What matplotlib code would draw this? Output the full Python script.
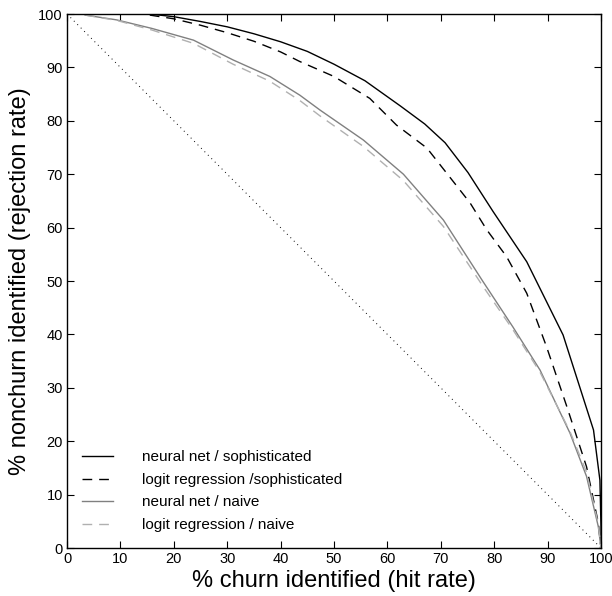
import numpy as np
import matplotlib.pyplot as plt

plt.rcParams['font.family'] = ['Liberation Sans', 'DejaVu Sans']

# neural net / sophisticated
nn_soph_x = [15.5, 20, 25, 30, 35, 40, 45, 50, 55.8, 62.4, 67.0, 70.8, 75.1, 79.8, 86.1, 92.9, 98.6, 99.8, 100, 100]
nn_soph_y = [100, 99.5, 98.6, 97.6, 96.3, 94.8, 93.0, 90.6, 87.5, 82.8, 79.4, 75.9, 70.3, 63.0, 53.6, 39.9, 22.1, 12.7, 4, 0]

# logit regression / sophisticated
lr_soph_x = [15.5, 20, 25, 30, 35, 40, 43.6, 50, 56.7, 61.7, 67.4, 71.1, 75.5, 78.6, 82.3, 86.1, 89.8, 93.6, 97.3, 99.5, 100]
lr_soph_y = [99.8, 99.1, 97.9, 96.5, 94.9, 92.9, 91.1, 88.3, 84.2, 79.2, 74.9, 70.2, 64.6, 59.6, 54.6, 47.7, 37.7, 26.5, 15.2, 4.7, 0]

# neural net / naive
nn_naive_x = [3.4, 9.3, 15.9, 23.7, 31.1, 38.0, 43.6, 47.4, 55.5, 63.0, 70.5, 77.9, 83.5, 88.6, 94.2, 97.3, 99.5, 100]
nn_naive_y = [99.8, 98.9, 97.3, 95.1, 91.4, 88.3, 84.8, 82.0, 76.4, 70.0, 61.4, 49.9, 41.4, 33.3, 21.5, 13.4, 4, 0]

# logit regression / naive
lr_naive_x = [3.4, 9.3, 15.9, 23.7, 31.1, 38.0, 43.6, 47.4, 55.5, 63.0, 70.5, 77.9, 83.5, 88.6, 94.2, 97.3, 99.5, 100]
lr_naive_y = [99.8, 98.8, 97.0, 94.5, 90.6, 87.4, 83.8, 80.9, 75.2, 68.8, 60.2, 49.0, 40.9, 32.9, 21.8, 14.2, 4.5, 0]

diag_x = [0, 100]
diag_y = [100, 0]

fig = plt.figure(figsize=(6.12, 5.96), dpi=100)
ax = fig.add_axes([0.1095, 0.0805, 0.8725, 0.896])

ax.plot(diag_x, diag_y, color='black', linestyle=(0, (1, 4)), linewidth=0.7)
ax.plot(nn_soph_x, nn_soph_y, color='black', linewidth=1.0, label='neural net / sophisticated')
ax.plot(lr_soph_x, lr_soph_y, color='black', linewidth=1.0, linestyle=(0, (7, 5)),
        label='logit regression /sophisticated')
ax.plot(nn_naive_x, nn_naive_y, color='#808080', linewidth=1.0, label='neural net / naive')
ax.plot(lr_naive_x, lr_naive_y, color='#b0b0b0', linewidth=1.0, linestyle=(0, (7, 5)),
        label='logit regression / naive')

ax.set_xlim(0, 100)
ax.set_ylim(0, 100)
ax.set_xticks(np.arange(0, 101, 10))
ax.set_yticks(np.arange(0, 101, 10))
ax.tick_params(direction='in', top=True, right=True, labelsize=10.5, length=5, pad=3)
for s in ax.spines.values():
    s.set_linewidth(1.0)

ax.set_xlabel('% churn identified (hit rate)', fontsize=17, labelpad=3)
ax.set_ylabel('% nonchurn identified (rejection rate)', fontsize=17, labelpad=5)

ax.legend(loc='lower left', bbox_to_anchor=(0.0275, 0.03), frameon=False, fontsize=11,
          handlelength=2.05, handletextpad=1.9, labelspacing=0.56, borderpad=0,
          borderaxespad=0)

plt.savefig('out.png')
